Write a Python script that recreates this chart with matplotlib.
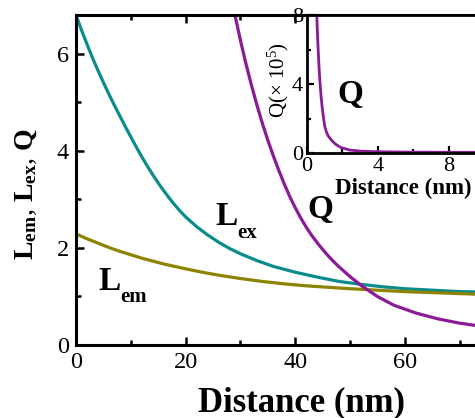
import matplotlib
matplotlib.use('Agg')
import matplotlib.pyplot as plt
from matplotlib.ticker import MultipleLocator, FixedLocator

# Serif look like the original (Times-ish)
plt.rcParams['font.family'] = ['Liberation Serif', 'DejaVu Serif']
plt.rcParams['mathtext.fontset'] = 'custom'
plt.rcParams['mathtext.rm'] = 'Liberation Serif'
plt.rcParams['mathtext.it'] = 'Liberation Serif:italic'
plt.rcParams['mathtext.bf'] = 'Liberation Serif:bold'

# Data
dist_ex = [0, 1, 2, 3, 4, 5, 6, 7, 8, 9, 10, 11, 12, 13, 14, 15, 16, 17, 18, 19, 20,
           22, 24, 26, 28, 30, 33, 36, 40, 44, 48, 52, 56, 60, 65, 70, 75, 80]
l_ex = [6.80, 6.49, 6.20, 5.92, 5.66, 5.41, 5.17, 4.94, 4.72, 4.50, 4.29, 4.08, 3.88,
        3.69, 3.51, 3.34, 3.18, 3.03, 2.89, 2.76, 2.64, 2.44, 2.27, 2.12, 1.99, 1.88,
        1.74, 1.62, 1.50, 1.40, 1.31, 1.25, 1.20, 1.16, 1.13, 1.10, 1.09, 1.08]

dist_em = [0, 2, 4, 6, 8, 10, 12, 14, 16, 18, 20, 23, 26, 30, 34, 38, 42, 46, 50,
           55, 60, 65, 70, 75, 80]
l_em = [2.29, 2.19, 2.10, 2.01, 1.93, 1.86, 1.79, 1.73, 1.67, 1.62, 1.57, 1.50, 1.44,
        1.37, 1.31, 1.26, 1.22, 1.19, 1.16, 1.13, 1.10, 1.08, 1.06, 1.04, 1.03]

dist_q = [29, 30, 31, 32, 33, 34, 35, 36, 37, 38, 39, 40, 41, 42, 43, 44, 45, 46, 47,
          48, 50, 52, 55, 58, 62, 66, 70, 75, 80]
q_main = [6.80, 6.28, 5.80, 5.36, 4.95, 4.57, 4.22, 3.90, 3.60, 3.32, 3.06, 2.83, 2.62,
          2.43, 2.26, 2.11, 1.97, 1.84, 1.72, 1.61, 1.41, 1.23, 1.00, 0.82, 0.66, 0.54,
          0.45, 0.37, 0.31]

dist_inset = [0.55, 0.58, 0.62, 0.66, 0.70, 0.75, 0.80, 0.85, 0.90, 0.95, 1.0, 1.1,
              1.2, 1.4, 1.6, 1.9, 2.4, 3.0, 4.0, 6.0, 8.0, 10.0]
q_inset = [8.0, 7.2, 6.2, 5.35, 4.6, 3.85, 3.2, 2.7, 2.28, 1.89, 1.55, 1.2, 0.98,
           0.72, 0.52, 0.32, 0.17, 0.11, 0.07, 0.05, 0.04, 0.04]

teal = '#0b8c8c'
olive = '#8c8400'
purple = '#8b1a96'

fig = plt.figure(figsize=(4.75, 4.18), dpi=100)

# main axes runs past the right edge of the picture, like the cropped original
ax = fig.add_axes([0.16, 0.1746, 0.923, 0.7895])
ax.plot(dist_ex, l_ex, color=teal, lw=2.3)
ax.plot(dist_em, l_em, color=olive, lw=2.3)
ax.plot(dist_q, q_main, color=purple, lw=2.3)
ax.set_xlim(0, 80)
ax.set_ylim(0, 6.8)
ax.xaxis.set_major_locator(FixedLocator([0, 20, 40, 60]))
ax.xaxis.set_minor_locator(FixedLocator([10, 30, 50, 70]))
ax.yaxis.set_major_locator(MultipleLocator(2))
ax.yaxis.set_minor_locator(MultipleLocator(1))
ax.tick_params(which='both', direction='in', top=True, right=False, width=1.8)
ax.tick_params(which='major', length=6, labelsize=17.5, pad=5)
ax.tick_params(which='minor', length=3.5)
for s in ax.spines.values():
    s.set_linewidth(2.2)

ax.set_xlabel('Distance (nm)', fontsize=25, fontweight='bold', va='top')
ax.xaxis.set_label_coords(0.515, -0.125)
ax.set_ylabel(r'$\mathbf{L_{em}}$, $\mathbf{L_{ex}}$, $\mathbf{Q}$', fontsize=20)
ax.yaxis.set_label_coords(-0.085, 0.458)

# curve labels, big letter and a dropped subscript
ax.text(4.0, 1.14, 'L', fontsize=24, fontweight='bold')
ax.text(8.0, 0.88, 'em', fontsize=15, fontweight='bold')
ax.text(25.4, 2.48, 'L', fontsize=24, fontweight='bold')
ax.text(29.4, 2.21, 'ex', fontsize=15, fontweight='bold')
ax.text(42.2, 2.62, 'Q', fontsize=24, fontweight='bold')

# inset with the short distance part of Q
axin = fig.add_axes([0.6463, 0.634, 0.3737, 0.330])
axin.plot(dist_inset, q_inset, color=purple, lw=2.0)
axin.set_xlim(0, 10)
axin.set_ylim(0, 8)
axin.xaxis.set_major_locator(MultipleLocator(4))
axin.xaxis.set_minor_locator(MultipleLocator(2))
axin.yaxis.set_major_locator(MultipleLocator(4))
axin.yaxis.set_minor_locator(MultipleLocator(2))
axin.tick_params(which='both', direction='in', top=False, right=False, width=1.6)
axin.tick_params(which='major', length=5, labelsize=16, pad=3)
axin.tick_params(which='minor', length=3)
for s in axin.spines.values():
    s.set_linewidth(2.0)
axin.set_xlabel('Distance (nm)', fontsize=16.5, fontweight='bold', va='top')
axin.xaxis.set_label_coords(0.541, -0.18)
axin.set_ylabel(r'Q(× 10$^{5}$)', fontsize=15)
axin.yaxis.set_label_coords(-0.09, 0.53)
axin.text(1.69, 2.9, 'Q', fontsize=24, fontweight='bold')

fig.savefig('out.png', dpi=100)
